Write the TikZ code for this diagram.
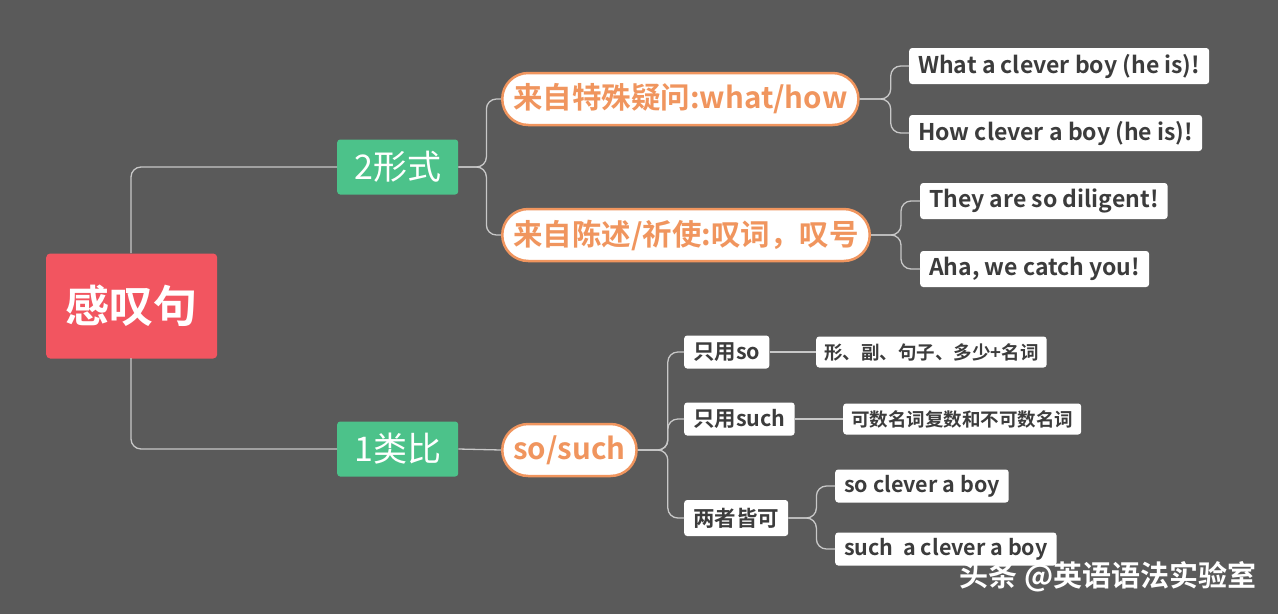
\documentclass[tikz,border=0pt]{standalone}
\usepackage{fontspec}
\newfontfamily\cjk{Noto Sans CJK SC}[BoldFont={* Bold}]
\definecolor{bg}{HTML}{5A5A5A}
\definecolor{rootc}{HTML}{F25560}
\definecolor{grn}{HTML}{4CC28A}
\definecolor{org}{HTML}{F0955E}
\definecolor{txt}{HTML}{3C3C3C}
\definecolor{ln}{HTML}{C8C8C8}
\begin{document}
\begin{tikzpicture}[x=1pt,y=-1pt,
 rootbox/.style={fill=rootc,rounded corners=4,text=white,font=\cjk\bfseries\fontsize{44}{44}\selectfont,minimum width=171,minimum height=105,anchor=west,inner sep=0},
 gbox/.style={fill=grn,rounded corners=3,text=white,font=\cjk\fontsize{34}{34}\selectfont,minimum width=121,minimum height=55,anchor=west,inner sep=0},
 obox/.style={fill=white,draw=org,line width=2.5,rounded corners=26,text=org,font=\cjk\bfseries\fontsize{29.5}{29.5}\selectfont,minimum height=52,anchor=west,inner xsep=11},
 wbox/.style={fill=white,rounded corners=3,text=txt,font=\cjk\bfseries\fontsize{23}{23}\selectfont,minimum height=36,anchor=west,inner xsep=9},
 sbox/.style={fill=white,rounded corners=3,text=txt,font=\cjk\bfseries\fontsize{21.5}{21.5}\selectfont,minimum height=33,anchor=west,inner xsep=9},
 tbox/.style={fill=white,rounded corners=3,text=txt,font=\cjk\bfseries\fontsize{18.5}{18.5}\selectfont,minimum height=31,anchor=west,inner xsep=8},
 conn/.style={draw=ln,line width=1.3,rounded corners=10}]
\fill[bg] (0,0) rectangle (1278,614);
\useasboundingbox (0,0) rectangle (1278,614);
\node[rootbox] (root) at (46,306) {感叹句};
\node[gbox] (f) at (337,167) {2形式};
\node[gbox] (l) at (337,449) {1类比};
\node[obox] (q) at (501,99) {来自特殊疑问:what/how};
\node[obox] (c) at (501,235) {来自陈述/祈使:叹词，叹号};
\node[obox] (ss) at (501,450) {so/such};
\node[wbox] (w1) at (909,66) {What a clever boy (he is)!};
\node[wbox] (w2) at (909,133) {How clever a boy (he is)!};
\node[wbox] (w3) at (920,201) {They are so diligent!};
\node[wbox] (w4) at (920,269) {Aha, we catch you!};
\node[sbox] (s1) at (684,352) {只用so};
\node[sbox] (s2) at (684,419) {只用such};
\node[sbox, minimum height=36] (s3) at (684,518) {两者皆可};
\node[tbox] (t1) at (816,352) {形、副、句子、多少+名词};
\node[tbox] (t2) at (843,419) {可数名词复数和不可数名词};
\node[sbox] (t3) at (835,486) {so clever a boy};
\node[sbox] (t4) at (835,549) {such\ \ a clever a boy};
\node[anchor=east,text=white,font=\cjk\bfseries\fontsize{29}{29}\selectfont] (wm) at (1260,577) {头条 @英语语法实验室};
\coordinate (r1) at (131,253); \coordinate (r2) at (131,358);
\draw[conn] (r1) |- (f.west);
\draw[conn] (r2) |- (l.west);
\draw[conn] (f.east) -- ++(28,0) |- (q.west);
\draw[conn] (f.east) -- ++(28,0) |- (c.west);
\draw[conn] (l.east) -- (ss.west);
\draw[conn] (q.east) -- ++(31,0) |- (w1.west);
\draw[conn] (q.east) -- ++(31,0) |- (w2.west);
\draw[conn] (c.east) -- ++(30,0) |- (w3.west);
\draw[conn] (c.east) -- ++(30,0) |- (w4.west);
\draw[conn] (ss.east) -- ++(30,0) |- (s1.west);
\draw[conn] (ss.east) -- ++(30,0) |- (s2.west);
\draw[conn] (ss.east) -- ++(30,0) |- (s3.west);
\draw[conn] (s1.east) -- (t1.west);
\draw[conn] (s2.east) -- (t2.west);
\draw[conn] (s3.east) -- ++(28,0) |- (t3.west);
\draw[conn] (s3.east) -- ++(28,0) |- (t4.west);
\end{tikzpicture}
\end{document}
